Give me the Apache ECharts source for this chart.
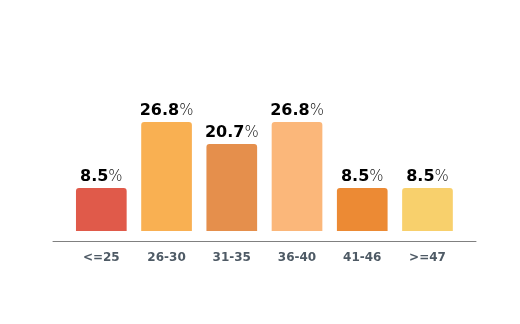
<!DOCTYPE html>
<html>
<head>
<meta charset="utf-8">
<script src="https://cdn.jsdelivr.net/npm/echarts@6/dist/echarts.min.js"></script>
<style>html,body{margin:0;padding:0;background:#fff;}#chart{width:520px;height:324px;}</style>
</head>
<body>
<div id="chart"></div>
<script>
const categories = ['<=25', '26-30', '31-35', '36-40', '41-46', '>=47'];
const values = [8.5, 26.8, 20.7, 26.8, 8.5, 8.5];
const barColors = ['#E05A4A', '#F9B052', '#E58F4C', '#FBB77A', '#EC8A34', '#F8D06C'];
const Y_MIN = -3.4;
const Y_MAX = 30;

const chart = echarts.init(document.getElementById('chart'), null, { renderer: 'canvas' });
chart.setOption({
  backgroundColor: '#ffffff',
  animation: false,
  grid: [
    { left: 68.7, right: 59.9, top: 110.5, bottom: 93 },
    { left: 53, right: 44, top: 100, bottom: 83 }
  ],
  xAxis: [
    {
      type: 'category', gridIndex: 0, data: categories,
      axisLine: { show: false }, axisTick: { show: false },
      axisLabel: { margin: 21, color: '#4E5A65', fontFamily: 'DejaVu Sans', fontWeight: 'bold', fontSize: 12 }
    },
    {
      type: 'category', gridIndex: 1, data: categories,
      axisLine: { show: true, lineStyle: { color: '#808080', width: 1 } },
      axisTick: { show: false }, axisLabel: { show: false }
    }
  ],
  yAxis: [
    { type: 'value', gridIndex: 0, min: Y_MIN, max: Y_MAX, show: false },
    { type: 'value', gridIndex: 1, show: false }
  ],
  series: [{
    type: 'custom',
    xAxisIndex: 0, yAxisIndex: 0,
    data: values.map((v, i) => [i, v]),
    renderItem: function (params, api) {
      const i = api.value(0);
      const v = api.value(1);
      const base = api.coord([i, Y_MIN]);
      const top = api.coord([i, v]);
      const w = api.size([1, 0])[0] * 0.777;
      return {
        type: 'group',
        children: [
          {
            type: 'rect',
            shape: { x: top[0] - w / 2, y: top[1], width: w, height: base[1] - top[1], r: [3, 3, 0, 0] },
            style: { fill: barColors[i] }
          },
          {
            type: 'text',
            x: top[0], y: top[1] - 3,
            style: {
              text: '{b|' + v.toFixed(1) + '}{p|%}',
              align: 'center', verticalAlign: 'bottom',
              rich: {
                b: { fontFamily: 'DejaVu Sans', fontWeight: 'bold', fontSize: 16, fill: '#000000' },
                p: { fontFamily: 'DejaVu Sans', fontWeight: 300, fontSize: 15, fill: '#111111' }
              }
            }
          }
        ]
      };
    }
  }]
});
</script>
</body>
</html>
